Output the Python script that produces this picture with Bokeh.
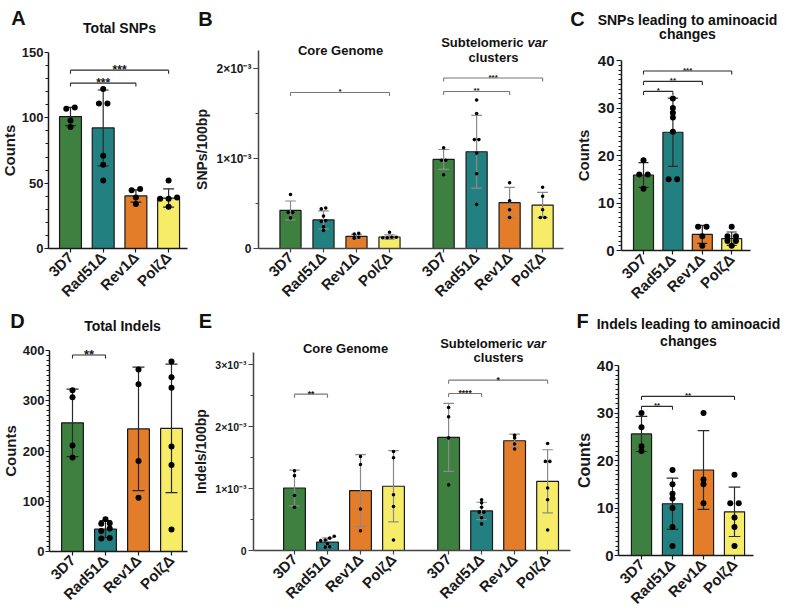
import math
from bokeh.plotting import figure
from bokeh.models import FixedTicker, Label
from bokeh.layouts import row, column
from bokeh.embed import file_html
from bokeh.resources import INLINE

FONT = "Liberation Sans"
INK = "#1a1a1a"

strains = ["3D7", "Rad51Δ", "Rev1Δ", "PolζΔ"]
strain_colors = ["#3e8040", "#238080", "#e47d2a", "#f6ec68"]

# ---- A: total SNPs (counts) ----
snp_total_mean = [101.0, 92.3, 40.2, 38.6]
snp_total_sd = [7.0, 29.0, 4.7, 7.0]
snp_total_pts = [[107, 108, 98, 93],
                 [122, 111, 111, 71, 64, 52],
                 [44.5, 45.5, 39, 34],
                 [52, 38, 39, 38, 32]]
snp_total_sig = [(0, 3, 136.5, "***"), (0, 2, 126.6, "***")]

# ---- B: SNPs per 100 bp (x10^-3), core genome and subtelomeric var clusters ----
snp_core_mean = [0.423, 0.318, 0.135, 0.128]
snp_core_sd = [0.105, 0.100, 0.022, 0.024]
snp_core_pts = [[0.60, 0.40, 0.40, 0.34],
                [0.45, 0.44, 0.36, 0.31, 0.30, 0.24, 0.20],
                [0.16, 0.17, 0.125, 0.115],
                [0.18, 0.125, 0.12, 0.12, 0.125]]
snp_core_sig = [(0, 3, 1.734, "*")]

snp_var_mean = [0.990, 1.075, 0.509, 0.483]
snp_var_sd = [0.110, 0.405, 0.170, 0.140]
snp_var_pts = [[1.12, 0.98, 0.98, 0.82],
               [1.65, 1.50, 1.21, 1.21, 1.06, 0.83, 0.49],
               [0.73, 0.53, 0.43, 0.345],
               [0.68, 0.58, 0.43, 0.345, 0.345]]
snp_var_sig = [(0, 2, 1.745, "**"), (0, 3, 1.895, "***")]

# ---- C: SNPs leading to aminoacid changes (counts) ----
snp_aa_mean = [15.9, 24.9, 3.4, 2.5]
snp_aa_sd = [2.6, 7.2, 1.9, 1.4]
snp_aa_pts = [[19, 16, 16, 13],
              [32, 30, 29, 28, 25, 15, 15],
              [5, 5, 3, 1],
              [5, 3, 3, 2, 2, 1]]
snp_aa_sig = [(0, 1, 33.5, "*"), (0, 2, 35.6, "**"), (0, 3, 37.8, "***")]

# ---- D: total indels (counts) ----
indel_total_mean = [256.0, 44.5, 244.0, 245.0]
indel_total_sd = [67.0, 17.0, 123.0, 128.0]
indel_total_pts = [[321, 307, 211, 187],
                   [64, 56, 55, 46, 41, 27, 26],
                   [362, 333, 180, 107],
                   [378, 347, 326, 209, 172, 44]]
indel_total_sig = [(0, 1, 391, "**")]

# ---- E: indels per 100 bp (x10^-3) ----
indel_core_mean = [1.010, 0.134, 0.968, 1.038]
indel_core_sd = [0.290, 0.070, 0.580, 0.575]
indel_core_pts = [[1.29, 1.21, 0.89, 0.70],
                  [0.23, 0.20, 0.17, 0.16, 0.11, 0.055, 0.06],
                  [1.52, 1.39, 0.67, 0.32],
                  [1.60, 1.50, 0.90, 0.71, 0.17]]
indel_core_sig = [(0, 1, 2.527, "**")]

indel_var_mean = [1.828, 0.640, 1.774, 1.118]
indel_var_sd = [0.550, 0.140, 0.107, 0.510]
indel_var_pts = [[2.31, 2.16, 1.82, 1.06],
                 [0.82, 0.77, 0.70, 0.62, 0.62, 0.53, 0.43],
                 [1.86, 1.82, 1.72, 1.64],
                 [1.73, 1.44, 1.44, 1.01, 0.82, 0.33]]
indel_var_sig = [(0, 1, 2.538, "****"), (0, 3, 2.753, "*")]

# ---- F: indels leading to aminoacid changes (counts) ----
indel_aa_mean = [25.6, 10.9, 18.0, 9.2]
indel_aa_sd = [3.7, 5.4, 8.3, 5.2]
indel_aa_pts = [[30, 27, 23, 22],
                [18, 15, 13, 12, 10, 6, 2],
                [30, 16, 15, 11],
                [17, 11, 11, 8, 6, 2]]
indel_aa_sig = [(0, 1, 31.4, "**"), (0, 3, 33.5, "**")]

# Page geometry of each panel (pixels): figure box (x, y, w, h), page x of the first bar
# and bar pitch (c0, s), y-axis position l, x-axis end r, baseline b, axis top t, axis max.
GEOM = {
    "A": dict(x=0, y=0, w=192, h=304, c0=70, s=32.7, l=48, r=187, b=248, t=52, ymax=150),
    "B": dict(x=192, y=0, w=373, h=304, c0=290, s=33, l=258, r=563, b=248, t=50, ymax=2.2, shift=4.64),
    "C": dict(x=565, y=0, w=222, h=304, c0=643, s=29.4, l=621, r=750, b=250, t=60, ymax=40),
    "D": dict(x=0, y=304, w=192, h=305, c0=72, s=33, l=49, r=187, b=551, t=350, ymax=400),
    "E": dict(x=192, y=304, w=380, h=305, c0=294, s=33, l=253, r=570, b=550, t=352, ymax=3.2, shift=4.67),
    "F": dict(x=572, y=304, w=215, h=305, c0=641, s=31, l=618, r=753, b=555, t=365, ymax=40),
}


def swarm_offsets(vals, thr_px, step_px, ypx):
    """Spread points that would overlap into a centred horizontal row (pixels)."""
    order = sorted(range(len(vals)), key=lambda k: vals[k])
    rows = []
    for k in order:
        if rows and (vals[k] - vals[rows[-1][-1]]) * ypx < thr_px:
            rows[-1].append(k)
        else:
            rows.append([k])
    offs = [0.0] * len(vals)
    for r in rows:
        n = len(r)
        for i, k in enumerate(r):
            offs[k] = (i - (n - 1) / 2) * step_px
    return offs


def add_text(p, g, px, py, text, size, style="bold", align="center"):
    p.add_layout(Label(x=px - g["x"], y=g["y"] + g["h"] - py, x_units="screen", y_units="screen",
                       text=text, text_font=FONT, text_font_size=f"{size}px",
                       text_font_style=style, text_align=align, text_baseline="middle",
                       text_color="#111111"))


def make_panel(g, groups, st):
    ypx = (g["b"] - g["t"]) / g["ymax"]
    s = g["s"]
    xr = ((g["x"] - g["c0"]) / s, (g["x"] + g["w"] - g["c0"]) / s)
    yr = ((g["b"] - g["y"] - g["h"]) / ypx, (g["b"] - g["y"]) / ypx)
    p = figure(width=g["w"], height=g["h"], x_range=xr, y_range=yr, title=None,
               output_backend="svg", toolbar_location=None, min_border=0)
    p.outline_line_color = None
    p.xgrid.visible = False
    p.ygrid.visible = False
    p.background_fill_color = "white"
    p.border_fill_color = "white"

    cap = st["cap_px"] / s
    ticks, names = [], {}
    for shift, mean, sd, pts, sig in groups:
        xs = [shift + i for i in range(len(strains))]
        ticks += xs
        for x, n in zip(xs, strains):
            names[x] = n
        p.vbar(x=xs, top=mean, bottom=0, width=st["bar_w"], fill_color=strain_colors,
               line_color=INK, line_width=1.2)
        lo = [m - e for m, e in zip(mean, sd)]
        hi = [m + e for m, e in zip(mean, sd)]
        p.segment(x0=xs, y0=lo, x1=xs, y1=hi, line_color=st["err"], line_width=1.2)
        p.segment(x0=[x - cap for x in xs], y0=hi, x1=[x + cap for x in xs], y1=hi,
                  line_color=st["err"], line_width=1.2)
        p.segment(x0=[x - cap for x in xs], y0=lo, x1=[x + cap for x in xs], y1=lo,
                  line_color=st["err"], line_width=1.2)
        px_, py_ = [], []
        for x, vals in zip(xs, pts):
            offs = swarm_offsets(vals, 0.6 * st["dot"], st["step"], ypx)
            px_ += [x + o / s for o in offs]
            py_ += list(vals)
        p.scatter(x=px_, y=py_, size=st["dot"], fill_color="black", line_color=None)
        tick_len = 3.5 / ypx
        for i, j, h, txt in sig:
            xa, xb = xs[i], xs[j]
            p.segment(x0=[xa, xa, xb], y0=[h, h, h], x1=[xb, xa, xb],
                      y1=[h, h - tick_len, h - tick_len], line_color=st["sig"], line_width=1.1)
            p.add_layout(Label(x=(xa + xb) / 2, y=h, y_offset=0.5, text=txt, text_align="center",
                               text_baseline="alphabetic", text_font=FONT,
                               text_font_size=f"{st['star']}px", text_font_style="bold",
                               text_color=INK))

    x_left = (g["l"] - g["c0"]) / s
    x_right = (g["r"] - g["c0"]) / s

    xa = p.xaxis[0]
    xa.fixed_location = 0
    xa.bounds = (x_left, x_right)
    xa.ticker = FixedTicker(ticks=ticks)
    xa.major_label_overrides = names
    xa.major_label_orientation = math.pi / 4
    xa.major_label_text_font = FONT
    xa.major_label_text_font_style = "bold"
    xa.major_label_text_font_size = "15px"
    xa.major_label_text_color = INK
    xa.major_label_standoff = 2
    xa.major_tick_in = 0
    xa.major_tick_out = 4
    xa.axis_line_width = 1.5
    xa.axis_line_color = st["axis"]
    xa.major_tick_line_color = st["axis"]
    xa.major_tick_line_width = 1.2

    ya = p.yaxis[0]
    ya.fixed_location = x_left
    ya.bounds = (0, g["ymax"])
    ya.ticker = FixedTicker(ticks=st["yticks"], minor_ticks=st["yminor"])
    if st.get("ylabels"):
        ya.major_label_overrides = st["ylabels"]
    ya.axis_label = st["ylabel"]
    ya.axis_label_text_font = FONT
    ya.axis_label_text_font_style = "bold"
    ya.axis_label_text_font_size = f"{st['ylabel_size']}px"
    ya.axis_label_text_color = INK
    ya.axis_label_standoff = st.get("ylabel_gap", 3)
    ya.major_label_text_font = FONT
    ya.major_label_text_font_style = "bold"
    ya.major_label_text_font_size = f"{st['ytick_size']}px"
    ya.major_label_text_color = INK
    ya.major_label_standoff = st.get("ytick_gap", 2)
    ya.major_tick_in = 0
    ya.major_tick_out = st.get("ytick_out", 5)
    ya.minor_tick_in = 0
    ya.minor_tick_out = 3
    ya.axis_line_width = 1.5
    ya.axis_line_color = st["axis"]
    ya.major_tick_line_color = st["axis"]
    ya.minor_tick_line_color = st["axis"]
    ya.major_tick_line_width = 1.2
    return p


big = dict(bar_w=0.66, cap_px=5.5, dot=6, step=8.5, err="#2a2a2a", sig="#2a2a2a", axis=INK)
small = dict(bar_w=0.64, cap_px=5.3, dot=3.6, step=4.5, err="#8a8a8a", sig="#777777", axis="#444444",
             star=8, ytick_size=12, ylabel_size=14)
exp_labels3 = {0: "0", 1: "1×10⁻³", 2: "2×10⁻³", 3: "3×10⁻³"}

gA, gB, gC, gD, gE, gF = (GEOM[k] for k in "ABCDEF")

pA = make_panel(gA, [(0, snp_total_mean, snp_total_sd, snp_total_pts, snp_total_sig)],
                dict(big, bar_w=0.67, star=12, yticks=[0, 50, 100, 150],
                     yminor=[v for v in range(0, 151, 10) if v % 50],
                     ylabel="Counts", ylabel_size=15, ytick_size=13,
                     ylabel_gap=1, ytick_gap=1, ytick_out=4))
add_text(pA, gA, 18, 17, "A", 20)
add_text(pA, gA, 119, 27, "Total SNPs", 14)

pB = make_panel(gB, [(0, snp_core_mean, snp_core_sd, snp_core_pts, snp_core_sig),
                     (gB["shift"], snp_var_mean, snp_var_sd, snp_var_pts, snp_var_sig)],
                dict(small, yticks=[0, 1, 2], yminor=[0.5, 1.5],
                     ylabels={k: exp_labels3[k] for k in (0, 1, 2)}, ylabel="SNPs/100bp"))
add_text(pB, gB, 205, 18, "B", 20)
add_text(pB, gB, 340, 50, "Core Genome", 13)
add_text(pB, gB, 523, 42, "Subtelomeric", 13, align="right")
add_text(pB, gB, 527, 42, "var", 13, style="bold italic", align="left")
add_text(pB, gB, 493, 57, "clusters", 13)

pC = make_panel(gC, [(0, snp_aa_mean, snp_aa_sd, snp_aa_pts, snp_aa_sig)],
                dict(big, bar_w=0.68, cap_px=5.0, star=8, yticks=[0, 10, 20, 30, 40],
                     yminor=[v for v in range(0, 41) if v % 10],
                     ylabel="Counts", ylabel_size=15, ytick_size=15))
add_text(pC, gC, 577, 18, "C", 20)
add_text(pC, gC, 687, 19, "SNPs leading to aminoacid", 14)
add_text(pC, gC, 687, 33, "changes", 14)

pD = make_panel(gD, [(0, indel_total_mean, indel_total_sd, indel_total_pts, indel_total_sig)],
                dict(big, bar_w=0.66, cap_px=6.0, star=13, yticks=[0, 100, 200, 300, 400],
                     yminor=[v for v in range(0, 401, 10) if v % 100],
                     ylabel="Counts", ylabel_size=15, ytick_size=13,
                     ylabel_gap=1, ytick_gap=1, ytick_out=4))
add_text(pD, gD, 17, 320, "D", 20)
add_text(pD, gD, 122, 325, "Total Indels", 14)

pE = make_panel(gE, [(0, indel_core_mean, indel_core_sd, indel_core_pts, indel_core_sig),
                     (gE["shift"], indel_var_mean, indel_var_sd, indel_var_pts, indel_var_sig)],
                dict(small, bar_w=0.66, star=8.5, yticks=[0, 1, 2, 3], yminor=[0.5, 1.5, 2.5],
                     ylabels=exp_labels3, ylabel="Indels/100bp", ytick_size=10.5))
add_text(pE, gE, 205, 320, "E", 20)
add_text(pE, gE, 345, 348, "Core Genome", 13)
add_text(pE, gE, 522, 343, "Subtelomeric", 13, align="right")
add_text(pE, gE, 526, 343, "var", 13, style="bold italic", align="left")
add_text(pE, gE, 498, 357, "clusters", 13)

pF = make_panel(gF, [(0, indel_aa_mean, indel_aa_sd, indel_aa_pts, indel_aa_sig)],
                dict(big, bar_w=0.65, cap_px=5.8, star=8, yticks=[0, 10, 20, 30, 40],
                     yminor=[v for v in range(0, 41) if v % 10],
                     ylabel="Counts", ylabel_size=16, ytick_size=15,
                     ylabel_gap=1, ytick_gap=1, ytick_out=4))
add_text(pF, gF, 582, 320, "F", 20)
add_text(pF, gF, 688, 323, "Indels leading to aminoacid", 14)
add_text(pF, gF, 688, 340, "changes", 14)

layout = column(row(pA, pB, pC), row(pD, pE, pF))
open("out.html", "w").write(file_html(layout, INLINE))
